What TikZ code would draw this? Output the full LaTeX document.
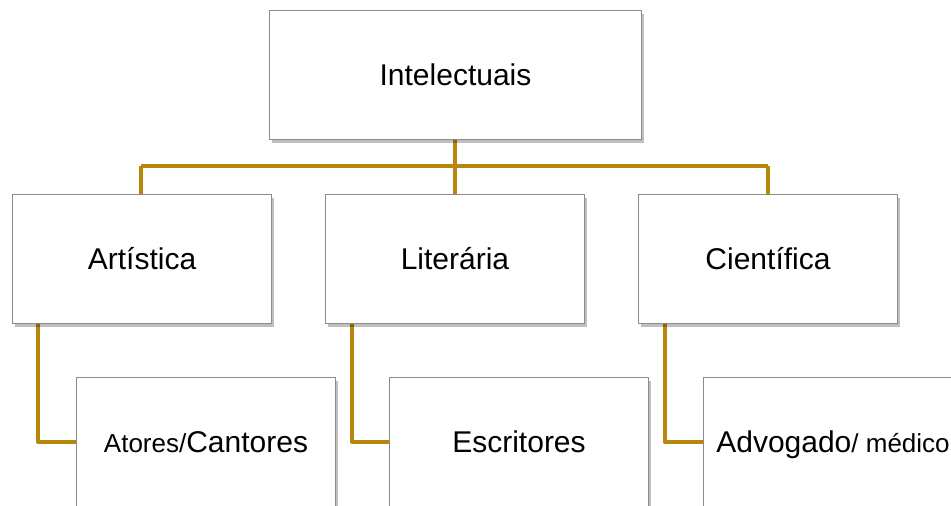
\documentclass[tikz,border=0pt]{standalone}
\usepackage{fontspec}
\setmainfont{Liberation Sans}
\usetikzlibrary{shadows}
\definecolor{linkc}{HTML}{B8860B}
\definecolor{boxborder}{HTML}{8C8C8C}
\tikzset{
  orgbox/.style={draw=boxborder, line width=1pt, fill=white, rectangle,
    minimum width=259pt, minimum height=129pt, inner sep=0pt, anchor=north west,
    text height=21pt, text depth=0pt,
    drop shadow={opacity=0.25, shadow xshift=2pt, shadow yshift=-3pt, fill=black}},
  topbox/.style={orgbox, minimum width=372pt},
  link/.style={draw=linkc, line width=4pt, line join=round},
  bigtxt/.style={font=\fontsize{30}{36}\selectfont}
}
\newcommand{\smtxt}{\fontsize{26}{31}\selectfont}
\begin{document}
\begin{tikzpicture}[x=1pt,y=-1pt]
\useasboundingbox (0,0) rectangle (951,506);
\clip (0,0) rectangle (951,506);
% connectors
\coordinate (hb1) at (140.5,166);
\coordinate (hb2) at (454.5,166);
\coordinate (hb3) at (767.5,166);
\draw[link] (hb1) -- (hb3);
\draw[link] (hb1) -- (140.5,200);
\draw[link] (454.5,130) -- (454.5,200);
\draw[link] (hb3) -- (767.5,200);
\draw[link] (38,320) |- (80,442);
\draw[link] (352,320) |- (393,442);
\draw[link] (665,320) |- (707,442);
% boxes
\node[topbox, bigtxt] (top) at (269,10) {Intelectuais};
\node[orgbox, bigtxt] (art) at (12,194) {Artística};
\node[orgbox, bigtxt] (lit) at (325,194) {Literária};
\node[orgbox, bigtxt] (cie) at (638,194) {Científica};
\node[orgbox, bigtxt] (ato) at (76,377) {{\smtxt Atores/}Cantores};
\node[orgbox, bigtxt] (esc) at (389,377) {Escritores};
\node[orgbox, bigtxt] (adv) at (703,377) {Advogado{\smtxt/ médico}};
\end{tikzpicture}
\end{document}
